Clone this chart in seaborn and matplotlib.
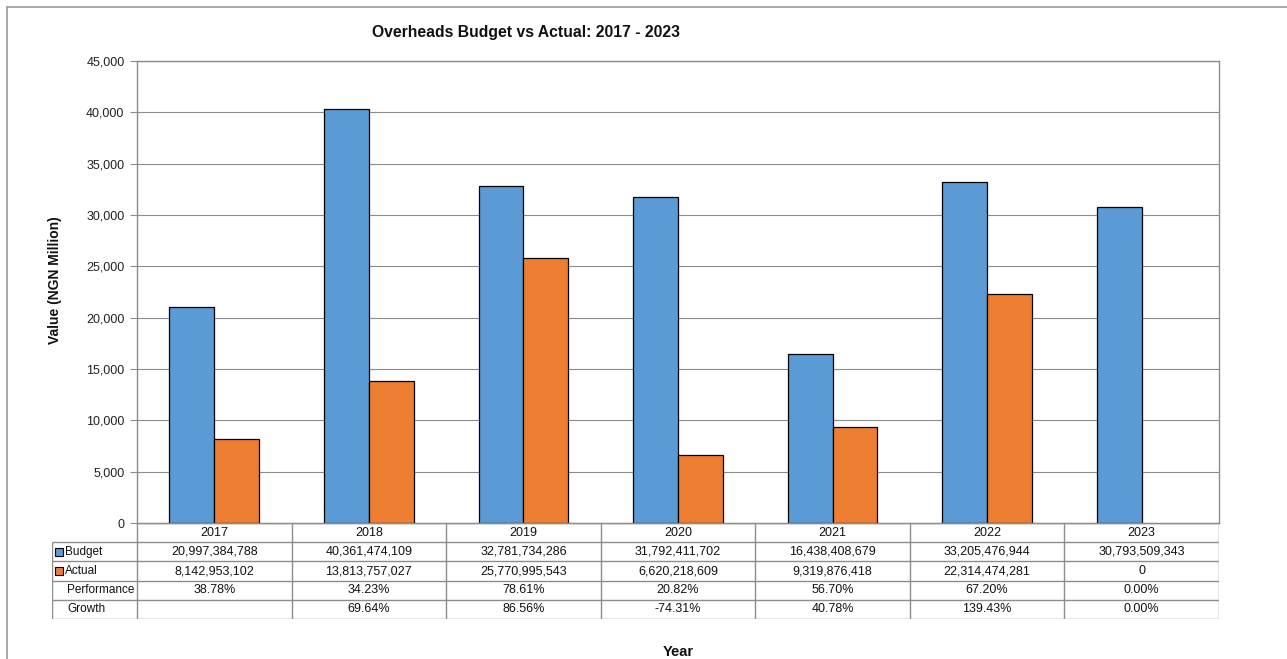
import matplotlib
matplotlib.use('Agg')
import matplotlib.pyplot as plt
import seaborn as sns
import pandas as pd
from matplotlib.patches import Rectangle
from matplotlib.lines import Line2D
from matplotlib.ticker import FuncFormatter

# ---------------- data ----------------
years = ['2017', '2018', '2019', '2020', '2021', '2022', '2023']
budget_ngn = [20997384788, 40361474109, 32781734286, 31792411702,
              16438408679, 33205476944, 30793509343]
actual_ngn = [8142953102, 13813757027, 25770995543, 6620218609,
              9319876418, 22314474281, 0]
performance = ['38.78%', '34.23%', '78.61%', '20.82%', '56.70%', '67.20%', '0.00%']
growth = ['', '69.64%', '86.56%', '-74.31%', '40.78%', '139.43%', '0.00%']
series = ['Budget', 'Actual']
row_labels = ['Budget', 'Actual', 'Performance', 'Growth']
y_ticks = [0, 5000, 10000, 15000, 20000, 25000, 30000, 35000, 40000, 45000]
title = 'Overheads Budget vs Actual: 2017 - 2023'
y_label = 'Value (NGN Million)'
x_label = 'Year'

colors = {'Budget': '#5B9BD5', 'Actual': '#ED7D31'}
GRID = '#8c8c8c'

# ---------------- figure ----------------
sns.set_style('white')
plt.rcParams['font.family'] = ['Liberation Sans', 'DejaVu Sans']

W, H = 1287, 659
fig = plt.figure(figsize=(W / 100, H / 100), dpi=100)
fig.patch.set_facecolor('white')

df = pd.DataFrame({
    'Year': years * 2,
    'Series': ['Budget'] * len(years) + ['Actual'] * len(years),
    'Value': [v / 1e6 for v in budget_ngn] + [v / 1e6 for v in actual_ngn],
})

ax = fig.add_axes([137 / W, 1 - 523 / H, (1219 - 137) / W, (523 - 61) / H])
sns.barplot(data=df, x='Year', y='Value', hue='Series', hue_order=series,
            palette=colors, saturation=1, width=0.58, edgecolor='black',
            linewidth=0.9, legend=False, ax=ax, errorbar=None)
for p in ax.patches:
    if p.get_height() == 0:
        p.set_linewidth(0)
ax.set_xlim(-0.5, len(years) - 0.5)
ax.set_ylim(0, 45000)
ax.set_yticks(y_ticks)
ax.yaxis.set_major_formatter(FuncFormatter(lambda v, p: f'{int(v):,}'))
ax.set_xticks([])
ax.set_xlabel('')
ax.set_ylabel(y_label, fontsize=10, fontweight='bold', color='#111111')
ax.yaxis.set_label_coords((62 - 137) / (1219 - 137), 1 - (280 - 61) / (523 - 61))
ax.grid(axis='y', color=GRID, linewidth=0.8)
ax.set_axisbelow(True)
for s in ax.spines.values():
    s.set_color(GRID)
    s.set_linewidth(1)
ax.tick_params(axis='y', left=True, length=5, width=0.8, color=GRID,
               labelsize=9, pad=4, labelcolor='#222222')
ax.text(0.5, (523 - 652) / (523 - 61), x_label, transform=ax.transAxes,
        ha='center', va='center', fontsize=10.5, fontweight='bold', color='#111111')

fig.text(526 / W, 1 - 33 / H, title, ha='center', va='center',
         fontsize=11.3, fontweight='bold', color='#111111')

# ---------------- data table ----------------
unit_px = (1219 - 137) / len(years)
label_w = (137 - 52) / unit_px
L = -0.5 - label_w
tax = fig.add_axes([52 / W, 1 - 619 / H, (1219 - 52) / W, (619 - 523) / H])
tax.set_xlim(L, len(years) - 0.5)
tax.set_ylim(5, 0)
tax.axis('off')

n = len(years)
tax.hlines(0, -0.5, n - 0.5, color=GRID, lw=1)
tax.hlines([1, 2, 3, 4, 5], L, n - 0.5, color=GRID, lw=1)
tax.vlines([i - 0.5 for i in range(n + 1)], 0, 5, color=GRID, lw=1)
tax.vlines(L, 1, 5, color=GRID, lw=1)

rows = [
    years,
    [f'{v:,}' for v in budget_ngn],
    [f'{v:,}' for v in actual_ngn],
    performance,
    growth,
]
for r, vals in enumerate(rows):
    for i, t in enumerate(vals):
        tax.text(i, r + 0.5, t, ha='center', va='center', fontsize=9,
                 color='#111111')

key_w = 8 / unit_px
key_h = 8 / 19.2
for r, lab in enumerate(row_labels):
    if lab in colors:
        tax.add_patch(Rectangle((L + 2.5 / unit_px, r + 1.5 - key_h / 2), key_w, key_h,
                                facecolor=colors[lab], edgecolor='black', lw=0.8,
                                clip_on=False))
        tx = L + 13 / unit_px
    else:
        tx = L + 15 / unit_px
    tax.text(tx, r + 1.5, lab, ha='left', va='center', fontsize=8.5, color='#111111')

# outer frame lines (top & left)
fig.add_artist(Line2D([7 / W, 1], [1 - 7 / H, 1 - 7 / H], color='#999999', lw=1.2))
fig.add_artist(Line2D([7 / W, 7 / W], [0, 1 - 7 / H], color='#999999', lw=1.2))

fig.savefig('out.png', dpi=100, facecolor='white')
